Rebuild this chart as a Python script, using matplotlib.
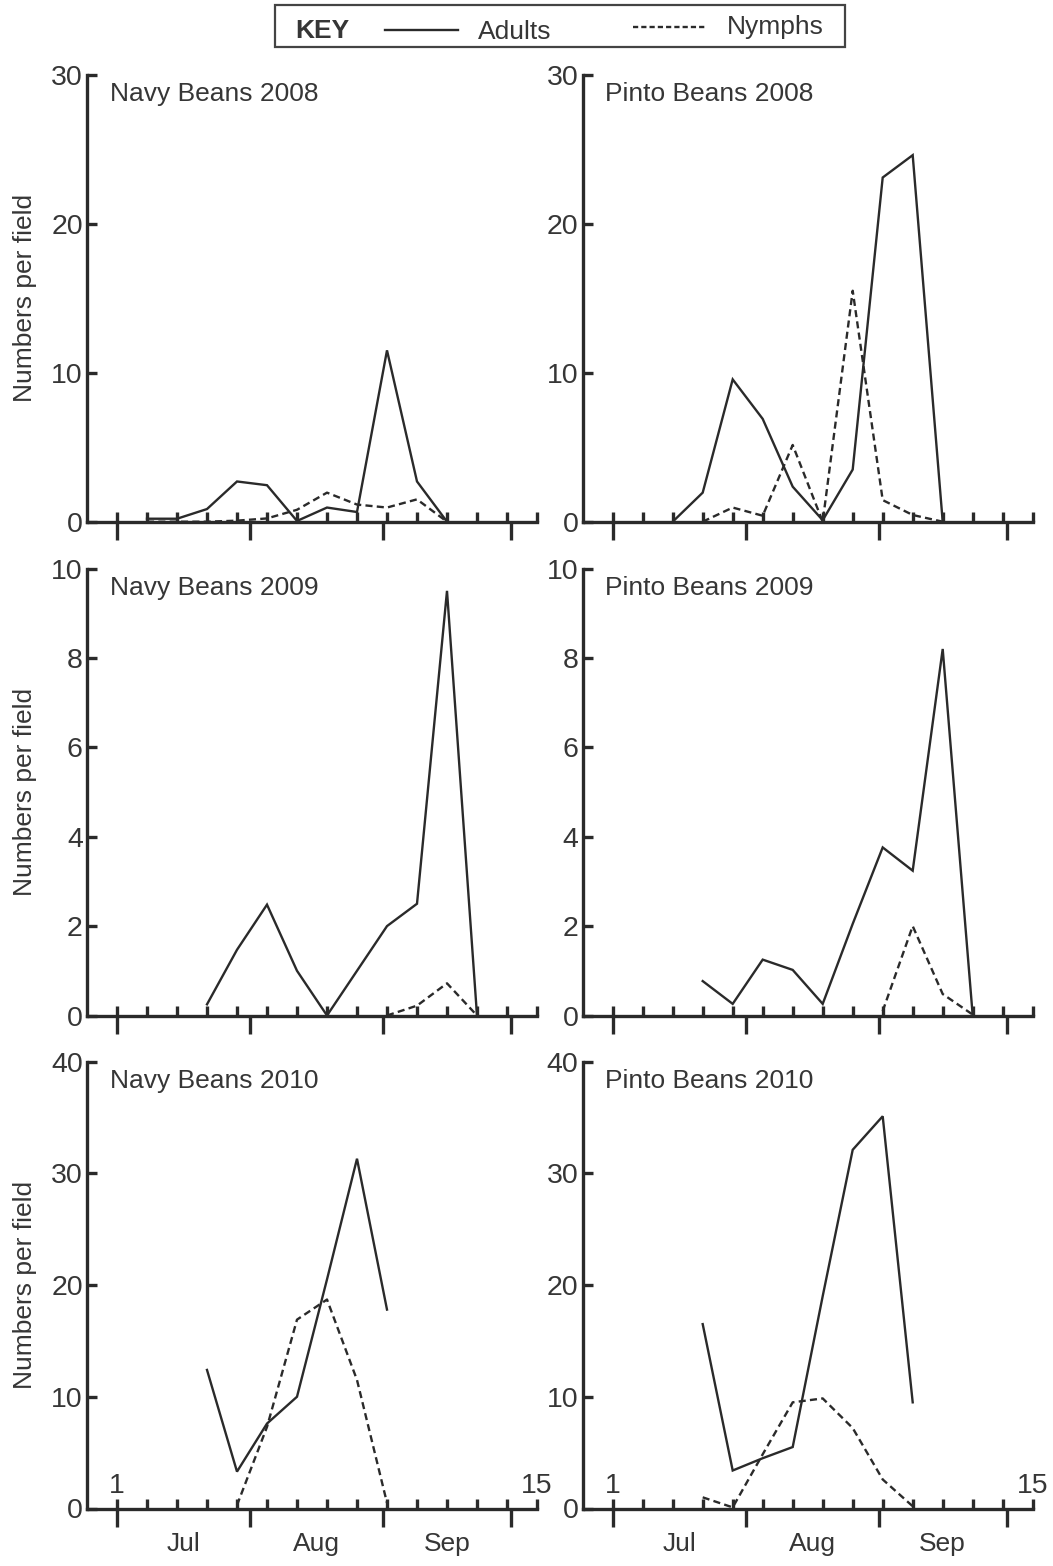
import numpy as np
import matplotlib
matplotlib.use("Agg")
import matplotlib.pyplot as plt
from matplotlib.lines import Line2D
from matplotlib.patches import Rectangle

plt.rcParams['font.family'] = ['Liberation Sans', 'DejaVu Sans']

# ---------------- data ----------------
week_ticks = list(range(1, 16))
month_edges = [1, 5.43, 9.86, 14.14]
month_labels = ['Jul', 'Aug', 'Sep']

navy08_adult_start = 2
navy08_adults = [0.2, 0.2, 0.85, 2.7, 2.45, 0.05, 0.95, 0.65, 11.5, 2.7, 0.0]
navy08_nymph_start = 2
navy08_nymphs = [0.0, 0.0, 0.0, 0.07, 0.22, 0.8, 1.95, 1.15, 0.95, 1.5, 0.0]

pinto08_adult_start = 3
pinto08_adults = [0.0, 1.95, 9.55, 6.9, 2.35, 0.1, 3.5, 23.1, 24.6, 0.0]
pinto08_nymph_start = 4
pinto08_nymphs = [0.0, 0.95, 0.4, 5.15, 0.0, 15.5, 1.45, 0.45, 0.0]

navy09_adult_start = 4
navy09_adults = [0.25, 1.47, 2.48, 1.0, 0.0, 1.0, 2.0, 2.5, 9.5, 0.0]
navy09_nymph_start = 10
navy09_nymphs = [0.0, 0.22, 0.72, 0.0]

pinto09_adult_start = 4
pinto09_adults = [0.77, 0.26, 1.25, 1.02, 0.26, 2.05, 3.76, 3.24, 8.2, 0.0]
pinto09_nymph_start = 10
pinto09_nymphs = [0.1, 2.0, 0.48, 0.02]

navy10_adult_start = 4
navy10_adults = [12.4, 3.3, 7.6, 10.0, 20.5, 31.3, 17.8]
navy10_nymph_start = 5
navy10_nymphs = [0.3, 7.3, 16.9, 18.7, 11.5, 0.5]

pinto10_adult_start = 4
pinto10_adults = [16.5, 3.4, 4.5, 5.5, 19.0, 32.1, 35.1, 9.5]
pinto10_nymph_start = 4
pinto10_nymphs = [1.0, 0.1, 4.85, 9.5, 9.85, 7.2, 2.6, 0.2]

titles = ['Navy Beans 2008', 'Pinto Beans 2008',
          'Navy Beans 2009', 'Pinto Beans 2009',
          'Navy Beans 2010', 'Pinto Beans 2010']
ymax_rows = [30, 10, 40]
yticks_rows = [[0, 10, 20, 30], [0, 2, 4, 6, 8, 10], [0, 10, 20, 30, 40]]

panels = [
    (navy08_adult_start, navy08_adults, navy08_nymph_start, navy08_nymphs),
    (pinto08_adult_start, pinto08_adults, pinto08_nymph_start, pinto08_nymphs),
    (navy09_adult_start, navy09_adults, navy09_nymph_start, navy09_nymphs),
    (pinto09_adult_start, pinto09_adults, pinto09_nymph_start, pinto09_nymphs),
    (navy10_adult_start, navy10_adults, navy10_nymph_start, navy10_nymphs),
    (pinto10_adult_start, pinto10_adults, pinto10_nymph_start, pinto10_nymphs),
]

# ---------------- style ----------------
W, H = 1053, 1566
LINE_C = '#2a2a2a'
TEXT_C = '#363636'
FS = 19
TICK_FS = 20.5
LW = 1.7
DASH = (3.0, 1.8)

fig = plt.figure(figsize=(W / 100, H / 100), dpi=100)

col_x = [87, 582.7]
row_bottom = [521.7, 1015.5, 1508.5]
ax_w, ax_h = 450, 447

for i, (a_start, a_vals, n_start, n_vals) in enumerate(panels):
    r, c = divmod(i, 2)
    ax = fig.add_axes([col_x[c] / W, 1 - row_bottom[r] / H, ax_w / W, ax_h / H])
    xa = np.arange(a_start, a_start + len(a_vals))
    xn = np.arange(n_start, n_start + len(n_vals))
    ax.plot(xa, a_vals, color=LINE_C, lw=LW, clip_on=False, solid_joinstyle='miter')
    ax.plot(xn, n_vals, color=LINE_C, lw=LW, dashes=DASH, clip_on=False)

    ax.set_xlim(0, 15)
    ax.set_ylim(0, ymax_rows[r])
    for s in ['top', 'right']:
        ax.spines[s].set_visible(False)
    for s in ['left', 'bottom']:
        ax.spines[s].set_linewidth(2.4)
        ax.spines[s].set_color(LINE_C)

    ax.set_yticks(yticks_rows[r])
    ax.tick_params(axis='y', direction='in', length=7, width=2.4, color=LINE_C,
                   labelsize=TICK_FS, labelcolor=TEXT_C, pad=3)
    ax.xaxis.remove_overlapping_locs = False
    ax.set_xticks(month_edges)
    ax.set_xticks(week_ticks, minor=True)
    ax.set_xticklabels([])
    ax.tick_params(axis='x', which='major', direction='out', length=13, width=2.4,
                   color=LINE_C)
    ax.tick_params(axis='x', which='minor', direction='in', length=7.5, width=2.4,
                   color=LINE_C)

    ax.text(0.05, 0.957, titles[i], transform=ax.transAxes, fontsize=FS,
            color=TEXT_C, ha='left', va='center')

    if c == 0:
        ax.set_ylabel('Numbers per field', fontsize=FS, color=TEXT_C, labelpad=10)

    if r == 2:
        trans = ax.get_xaxis_transform()
        for k, lab in enumerate(month_labels):
            mid = (month_edges[k] + month_edges[k + 1]) / 2
            ax.text(mid, -0.052, lab, transform=trans, fontsize=FS, color=TEXT_C,
                    ha='center', va='top')
        ax.text(week_ticks[0], 0.022, '1', transform=trans, fontsize=TICK_FS,
                color=TEXT_C, ha='center', va='bottom')
        ax.text(week_ticks[-1], 0.022, '15', transform=trans, fontsize=TICK_FS,
                color=TEXT_C, ha='center', va='bottom')

# ---------------- key box ----------------
kx0, ky0, kx1, ky1 = 275, 5, 845, 47
fig.patches.append(Rectangle((kx0 / W, 1 - ky1 / H), (kx1 - kx0) / W, (ky1 - ky0) / H,
                             transform=fig.transFigure, fill=False,
                             edgecolor='#444444', lw=1.6))
fig.text(295 / W, 1 - 31 / H, 'KEY', fontsize=FS, fontweight='bold', color=TEXT_C,
         ha='left', va='center')
fig.add_artist(Line2D([385 / W, 458 / W], [1 - 30 / H, 1 - 30 / H],
                      transform=fig.transFigure, color=LINE_C, lw=LW))
fig.text(478 / W, 1 - 32 / H, 'Adults', fontsize=FS, color=TEXT_C,
         ha='left', va='center')
fig.add_artist(Line2D([633 / W, 705 / W], [1 - 27 / H, 1 - 27 / H],
                      transform=fig.transFigure, color=LINE_C, lw=LW,
                      dashes=(2.2, 1.3)))
fig.text(727 / W, 1 - 27 / H, 'Nymphs', fontsize=FS, color=TEXT_C,
         ha='left', va='center')

fig.savefig('out.png', dpi=100)
